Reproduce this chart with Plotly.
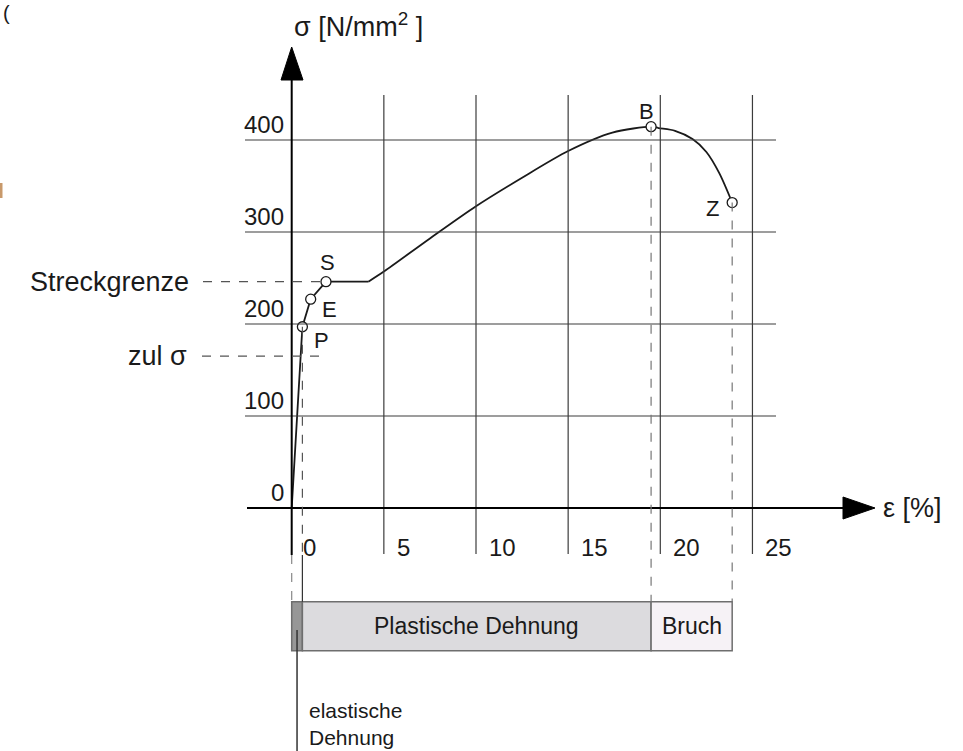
import plotly.graph_objects as go

# ---------------- data ----------------
strain = [0.0, 0.58, 1.03, 1.86, 4.16, 5.0, 7.5, 10.0, 12.5, 15.0, 17.4, 19.5, 19.9, 20.8, 21.75, 22.5, 23.2, 23.9]
stress = [0, 197, 227, 246, 246, 257, 293, 328, 359, 388, 408, 414.5, 413, 410, 401, 387, 364, 332]

point_names = ["P", "E", "S", "B", "Z"]
point_strain = [0.58, 1.03, 1.86, 19.5, 23.9]
point_stress = [197, 227, 246, 414.5, 332]

x_ticks = [0, 5, 10, 15, 20, 25]
x_tick_labels = ["0", "5", "10", "15", "20", "25"]
y_ticks = [0, 100, 200, 300, 400]
y_tick_labels = ["0", "100", "200", "300", "400"]

streckgrenze = 246
zul_sigma = 165

zone_starts = [0.0, 0.58, 19.5]
zone_ends = [0.58, 19.5, 23.9]
zone_labels = ["", "Plastische Dehnung", "Bruch"]
zone_colors = ["#979797", "#dcdbde", "#f6f2f6"]

# ---------------- pixel calibration (layout) ----------------
W, H = 963, 751
X0, SX = 291.7, 18.43   # px of strain 0, px per %
Y0, SY = 508.0, 0.92    # px of stress 0, px per N/mm2


def ex(px):
    return (px - X0) / SX


def sy(py):
    return (Y0 - py) / SY


FONT = "Arial, 'Liberation Sans', sans-serif"
INK = "#1a1a1a"
GRID = "#3c3c3c"

fig = go.Figure()
shapes = []
ann = []

# grid lines
for t in x_ticks[1:]:
    shapes.append(dict(type="line", x0=t, x1=t, y0=sy(95), y1=sy(554),
                       line=dict(color=GRID, width=1.2)))
for t in y_ticks[1:]:
    shapes.append(dict(type="line", x0=ex(245), x1=ex(776), y0=t, y1=t,
                       line=dict(color=GRID, width=1.2)))

# axes
shapes.append(dict(type="line", x0=ex(247), x1=ex(845), y0=0, y1=0,
                   line=dict(color="black", width=2)))
shapes.append(dict(type="path",
                   path=f"M {ex(843)},{sy(497)} L {ex(875)},0 L {ex(843)},{sy(519)} Z",
                   fillcolor="black", line=dict(color="black", width=1)))
shapes.append(dict(type="line", x0=0, x1=0, y0=sy(78), y1=sy(555),
                   line=dict(color="black", width=2)))
shapes.append(dict(type="path",
                   path=f"M {ex(281)},{sy(80)} L 0,{sy(47)} L {ex(303)},{sy(80)} Z",
                   fillcolor="black", line=dict(color="black", width=1)))
shapes.append(dict(type="line", x0=0, x1=0, y0=sy(555), y1=sy(602),
                   line=dict(color="#888888", width=1.2, dash="dash")))

# dashed helper lines
bar_top = sy(601.7)
bar_bot = sy(650.7)
shapes.append(dict(type="line", x0=point_strain[0], x1=point_strain[0], y0=point_stress[0], y1=sy(555),
                   line=dict(color="#555555", width=1.2, dash="dash")))
shapes.append(dict(type="line", x0=point_strain[0], x1=point_strain[0], y0=sy(555), y1=bar_top,
                   line=dict(color="#333333", width=1.2)))
for i in (3, 4):
    shapes.append(dict(type="line", x0=point_strain[i], x1=point_strain[i], y0=point_stress[i], y1=bar_top,
                       line=dict(color="#777777", width=1.2, dash="dash")))
shapes.append(dict(type="line", x0=ex(203), x1=point_strain[2], y0=streckgrenze, y1=streckgrenze,
                   line=dict(color="#555555", width=1.2, dash="dash")))
shapes.append(dict(type="line", x0=ex(202), x1=ex(327), y0=zul_sigma, y1=zul_sigma,
                   line=dict(color="#555555", width=1.2, dash="dash")))

# zone bar
for s, e, lab, col in zip(zone_starts, zone_ends, zone_labels, zone_colors):
    shapes.append(dict(type="rect", x0=s, x1=e, y0=bar_bot, y1=bar_top,
                       fillcolor=col, line=dict(color="#6e6e6e", width=1.5), layer="below"))
    if lab:
        ann.append(dict(x=(s + e) / 2, y=(bar_top + bar_bot) / 2, text=lab, showarrow=False,
                        xanchor="center", yanchor="middle",
                        font=dict(size=23, color=INK, family=FONT)))

# elastic strain pointer
el_mid = (zone_starts[0] + zone_ends[0]) / 2
shapes.append(dict(type="line", x0=el_mid, x1=el_mid, y0=sy(630), y1=sy(751),
                   line=dict(color="#333333", width=1.5)))
ann.append(dict(x=ex(307), y=sy(723.5), text="elastische<br>Dehnung", showarrow=False,
                xanchor="left", yanchor="middle", align="left",
                font=dict(size=21, color=INK, family=FONT)))

# small cropped marks at the left edge of the source image
ann.append(dict(x=ex(1), y=sy(0), text="(", showarrow=False,
                xanchor="left", yanchor="top", font=dict(size=20, color=INK, family=FONT)))
shapes.append(dict(type="line", x0=ex(1), x1=ex(1), y0=sy(183), y1=sy(198),
                   line=dict(color="#c8996b", width=3)))

# curve
fig.add_trace(go.Scatter(x=strain[:5], y=stress[:5], mode="lines",
                         line=dict(color=INK, width=1.8), hoverinfo="skip", showlegend=False))
fig.add_trace(go.Scatter(x=strain[4:], y=stress[4:], mode="lines",
                         line=dict(color=INK, width=1.8, shape="spline", smoothing=0.8),
                         hoverinfo="skip", showlegend=False))
fig.add_trace(go.Scatter(x=point_strain, y=point_stress, mode="markers",
                         marker=dict(symbol="circle", size=10, color="white",
                                     line=dict(color=INK, width=1.3)),
                         hoverinfo="skip", showlegend=False))

# point labels
offsets = [(19, -14), (19, -10), (2, 19), (-5, 15), (-20, -6)]
for n, xs, ys, (dx, dy) in zip(point_names, point_strain, point_stress, offsets):
    ann.append(dict(x=xs, y=ys, text=n, showarrow=False, xshift=dx, yshift=dy,
                    xanchor="center", yanchor="middle",
                    font=dict(size=22, color=INK, family=FONT)))

# tick labels
for t, lab in zip(y_ticks, y_tick_labels):
    ann.append(dict(x=ex(286), y=t, text=lab, showarrow=False, yshift=16,
                    xanchor="right", yanchor="middle",
                    font=dict(size=24, color=INK, family=FONT)))
for t, lab in zip(x_ticks, x_tick_labels):
    ann.append(dict(x=t, y=0, text=lab, showarrow=False, xshift=(10 if t == 0 else 12) - 1, yshift=-39,
                    xanchor="left", yanchor="middle",
                    font=dict(size=24, color=INK, family=FONT)))

# axis titles & side labels
ann.append(dict(x=ex(292), y=sy(25), text="σ [N/mm<sup>2</sup> ]", showarrow=False,
                xanchor="left", yanchor="middle", font=dict(size=27, color=INK, family=FONT)))
ann.append(dict(x=ex(881), y=0, text="ε [%]", showarrow=False,
                xanchor="left", yanchor="middle", font=dict(size=27, color=INK, family=FONT)))
ann.append(dict(x=ex(191), y=streckgrenze, text="Streckgrenze", showarrow=False,
                xanchor="right", yanchor="middle", font=dict(size=27, color=INK, family=FONT)))
ann.append(dict(x=ex(189), y=zul_sigma, text="zul σ", showarrow=False,
                xanchor="right", yanchor="middle", font=dict(size=27, color=INK, family=FONT)))

fig.update_layout(
    width=W, height=H,
    margin=dict(l=0, r=0, t=0, b=0),
    paper_bgcolor="white", plot_bgcolor="white",
    xaxis=dict(range=[ex(0), ex(W)], visible=False, fixedrange=True),
    yaxis=dict(range=[sy(H), sy(0)], visible=False, fixedrange=True),
    shapes=shapes, annotations=ann,
    showlegend=False,
)

fig.write_html("out.html", include_plotlyjs=True, config={"displayModeBar": False},
               post_script="document.body.style.margin='0';document.body.style.overflow='hidden';")
